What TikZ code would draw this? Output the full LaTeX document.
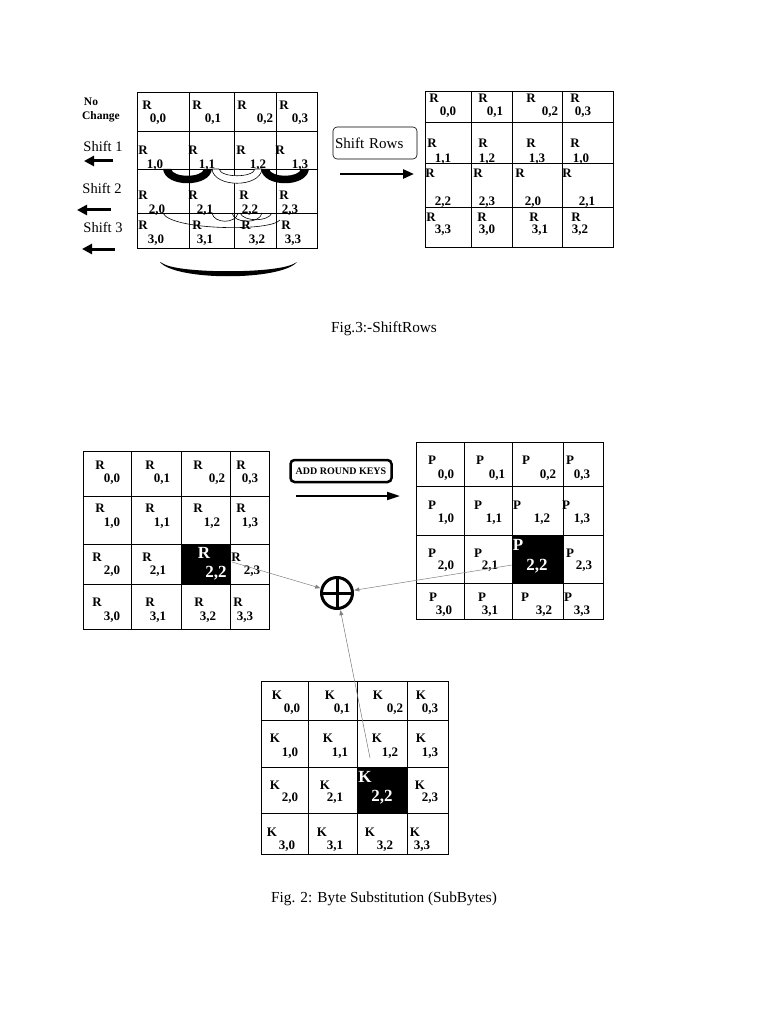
\documentclass[tikz,border=0pt]{standalone}
\usepackage{fontspec}
\setmainfont{Liberation Serif}
\usetikzlibrary{arrows.meta}
\newcommand\mycell[7]{\node[lab] (#1l) at (#2,#3) {#4}; \node[lab] (#1i) at (#5,#6) {#7};}
\newcommand\mybig[7]{\node[biglab] (#1l) at (#2,#3) {#4}; \node[biglab] (#1i) at (#5,#6) {#7};}
\begin{document}
\begin{tikzpicture}[x=1pt,y=-1pt,
  lab/.style={font=\bfseries\fontsize{13}{14}\selectfont, inner sep=0pt},
  biglab/.style={font=\bfseries\fontsize{17}{18}\selectfont, text=white, inner sep=0pt},
  gridline/.style={line width=0.8pt},
  plain/.style={font=\fontsize{14.5}{16}\selectfont, inner sep=0pt},
  caption/.style={font=\fontsize{15.3}{17}\selectfont, inner sep=0pt},
  fatarrow/.style={line width=3pt, -{Triangle[length=10pt,width=10pt]}},
  conn/.style={draw=gray, line width=0.5pt, -{Triangle[length=5pt,width=4pt]}, shorten >=0.5pt},
  crescent/.style={fill=black},
]
\useasboundingbox (0,0) rectangle (768,1024);

% ---------------- Grid 1 (ShiftRows input)
\draw[gridline] (137,92) rectangle (317,248);
\foreach \x in {189,234,276} \draw[gridline] (\x,92) -- (\x,248);
\foreach \y in {131,169,213} \draw[gridline] (137,\y) -- (317,\y);

\mycell{a00}{147}{105}{R}{158}{119}{0,0}
\mycell{a01}{197}{105}{R}{213}{119}{0,1}
\mycell{a02}{242}{105}{R}{265}{119}{0,2}
\mycell{a03}{284}{105}{R}{300}{119}{0,3}
\mycell{a10}{143}{150}{R}{155}{165}{1,0}
\mycell{a11}{193}{150}{R}{207}{165}{1,1}
\mycell{a12}{241}{150}{R}{258}{165}{1,2}
\mycell{a13}{280}{150}{R}{300}{165}{1,3}
\mycell{a20}{143}{195}{R}{157}{210}{2,0}
\mycell{a21}{193}{195}{R}{205}{210}{2,1}
\mycell{a22}{244}{195}{R}{250}{210}{2,2}
\mycell{a23}{284}{195}{R}{290}{210}{2,3}
\mycell{a30}{143}{225}{R}{156}{240}{3,0}
\mycell{a31}{197}{225}{R}{205}{240}{3,1}
\mycell{a32}{246}{225}{R}{257}{240}{3,2}
\mycell{a33}{286}{225}{R}{293}{240}{3,3}

% crescents for shift 1
\fill[crescent] (163,169) .. controls (165,188) and (210,188) .. (212,169) -- (204,169) .. controls (202,178) and (173,178) .. (171,169) -- cycle;
\filldraw[fill=white, draw=black, line width=0.6pt] (212,169) .. controls (214,188) and (260,188) .. (262,169) -- (255,169) .. controls (253,178) and (221,178) .. (219,169) -- cycle;
\fill[crescent] (261,169) .. controls (263,188) and (307,188) .. (309,169) -- (301,169) .. controls (299,178) and (271,178) .. (269,169) -- cycle;
% thin arcs for shift 2
\draw[line width=0.6pt] (163,213) .. controls (170,230) and (270,232) .. (280,220);
\draw[line width=0.6pt] (212,213) .. controls (214,224) and (236,224) .. (238,213);
\draw[line width=0.6pt] (232,213) .. controls (234,224) and (260,224) .. (262,213);
\draw[line width=0.6pt] (240,213) .. controls (244,222) and (268,222) .. (272,213);
% crescent for shift 3
\fill[crescent] (160,262) .. controls (175,281) and (281,281) .. (297,262) -- (295,263) .. controls (280,274) and (176,274) .. (162,263) -- cycle;

% left labels and arrows
\node[font=\bfseries\fontsize{11.5}{12}\selectfont, inner sep=0pt] (nochg1) at (91,102) {No};
\node[font=\bfseries\fontsize{11.5}{12}\selectfont, inner sep=0pt] (nochg2) at (101,117) {Change};
\node[plain] (s1) at (103,146) {Shift 1};
\node[plain] (s2) at (102,188) {Shift 2};
\node[plain] (s3) at (103,227) {Shift 3};
\coordinate (s1a) at (113,161); \coordinate (s1b) at (84,161);
\coordinate (s2a) at (111,210); \coordinate (s2b) at (77,210);
\coordinate (s3a) at (115,249); \coordinate (s3b) at (82,249);
\draw[fatarrow] (s1a) -- (s1b);
\draw[fatarrow] (s2a) -- (s2b);
\draw[fatarrow] (s3a) -- (s3b);

% Shift rows box and arrow
\node[draw, line width=0.6pt, rounded corners=4pt, text width=80pt, align=left, inner xsep=2pt, minimum height=32pt, font=\fontsize{15}{16}\selectfont] (srbox) at (375,143) {Shift Rows};
\coordinate (sra) at (340,174); \coordinate (srb) at (414,174);
\draw[line width=2.5pt, -{Triangle[length=11pt,width=9pt]}] (sra) -- (srb);

% ---------------- Grid 2 (ShiftRows output)
\draw[gridline] (425,91) rectangle (613,247);
\foreach \x in {471,512,562} \draw[gridline] (\x,91) -- (\x,247);
\foreach \y in {122,163,207} \draw[gridline] (425,\y) -- (613,\y);

\mycell{b00}{434}{98}{R}{448}{112}{0,0}
\mycell{b01}{483}{98}{R}{495}{112}{0,1}
\mycell{b02}{531}{98}{R}{550}{112}{0,2}
\mycell{b03}{575}{98}{R}{583}{112}{0,3}
\mycell{b10}{432}{143}{R}{443}{159}{1,1}
\mycell{b11}{483}{143}{R}{487}{159}{1,2}
\mycell{b12}{531}{143}{R}{537}{159}{1,3}
\mycell{b13}{575}{143}{R}{581}{159}{1,0}
\mycell{b20}{430}{173}{R}{443}{202}{2,2}
\mycell{b21}{478}{173}{R}{487}{202}{2,3}
\mycell{b22}{520}{173}{R}{533}{202}{2,0}
\mycell{b23}{567}{173}{R}{587}{202}{2,1}
\mycell{b30}{431}{217}{R}{443}{230}{3,3}
\mycell{b31}{482}{217}{R}{487}{230}{3,0}
\mycell{b32}{534}{217}{R}{540}{230}{3,1}
\mycell{b33}{576}{217}{R}{580}{230}{3,2}

\node[caption] (cap3) at (384,329) {Fig.3:-ShiftRows};

% ---------------- Grid 3 (R state)
\fill (181,544) rectangle (230,584);
\draw[gridline] (83,451) rectangle (269,629);
\foreach \x in {131,181,230} \draw[gridline] (\x,451) -- (\x,629);
\foreach \y in {496,544,584} \draw[gridline] (83,\y) -- (269,\y);

\mycell{c00}{100}{465}{R}{112}{479}{0,0}
\mycell{c01}{150}{465}{R}{162}{479}{0,1}
\mycell{c02}{198}{465}{R}{217}{479}{0,2}
\mycell{c03}{241}{465}{R}{250}{479}{0,3}
\mycell{c10}{100}{508}{R}{112}{523}{1,0}
\mycell{c11}{150}{508}{R}{162}{523}{1,1}
\mycell{c12}{198}{508}{R}{212}{523}{1,2}
\mycell{c13}{241}{508}{R}{250}{523}{1,3}
\mycell{c20}{97}{557}{R}{112}{571}{2,0}
\mycell{c21}{147}{557}{R}{158}{571}{2,1}
\mybig{c22}{204}{553}{R}{216}{573}{2,2}
\mycell{c23}{236}{557}{R}{252}{571}{2,3}
\mycell{c30}{97}{602}{R}{112}{617}{3,0}
\mycell{c31}{150}{602}{R}{158}{617}{3,1}
\mycell{c32}{199}{602}{R}{208}{617}{3,2}
\mycell{c33}{238}{602}{R}{245}{617}{3,3}

% ADD ROUND KEYS
\node[draw, line width=2.5pt, rounded corners=4pt, minimum width=101pt, minimum height=22pt, font=\bfseries\fontsize{10}{11}\selectfont, inner sep=2pt] (ark) at (341,471) {ADD ROUND KEYS};
\coordinate (arka) at (296,496); \coordinate (arkb) at (400,496);
\draw[line width=2pt, -{Triangle[length=13pt,width=8pt]}] (arka) -- (arkb);

% ---------------- Grid 4 (P state)
\fill (512,535) rectangle (563,583);
\draw[gridline] (416,442) rectangle (603,619);
\foreach \x in {464,512,563} \draw[gridline] (\x,442) -- (\x,619);
\foreach \y in {486,535,583} \draw[gridline] (416,\y) -- (603,\y);

\mycell{d00}{432}{460}{P}{446}{475}{0,0}
\mycell{d01}{480}{460}{P}{497}{475}{0,1}
\mycell{d02}{526}{460}{P}{548}{475}{0,2}
\mycell{d03}{570}{460}{P}{582}{475}{0,3}
\mycell{d10}{432}{505}{P}{446}{519}{1,0}
\mycell{d11}{478}{505}{P}{494}{519}{1,1}
\mycell{d12}{517}{505}{P}{542}{519}{1,2}
\mycell{d13}{566}{505}{P}{582}{519}{1,3}
\mycell{d20}{432}{553}{P}{446}{566}{2,0}
\mycell{d21}{478}{553}{P}{490}{566}{2,1}
\mybig{d22}{518}{545}{P}{537}{566}{2,2}
\mycell{d23}{570}{553}{P}{584}{566}{2,3}
\mycell{d30}{433}{597}{P}{444}{611}{3,0}
\mycell{d31}{482}{597}{P}{490}{611}{3,1}
\mycell{d32}{525}{597}{P}{544}{611}{3,2}
\mycell{d33}{568}{597}{P}{582}{611}{3,3}

% ---------------- Grid 5 (K state)
\fill (357,767) rectangle (407,813);
\draw[gridline] (261,681) rectangle (448,854);
\foreach \x in {308,357,407} \draw[gridline] (\x,681) -- (\x,854);
\foreach \y in {720,767,813} \draw[gridline] (261,\y) -- (448,\y);

\mycell{e00}{277}{695}{K}{292}{709}{0,0}
\mycell{e01}{330}{695}{K}{342}{709}{0,1}
\mycell{e02}{378}{695}{K}{395}{709}{0,2}
\mycell{e03}{421}{695}{K}{430}{709}{0,3}
\mycell{e10}{275}{738}{K}{290}{753}{1,0}
\mycell{e11}{328}{738}{K}{340}{753}{1,1}
\mycell{e12}{377}{738}{K}{390}{753}{1,2}
\mycell{e13}{421}{738}{K}{430}{753}{1,3}
\mycell{e20}{275}{785}{K}{290}{798}{2,0}
\mycell{e21}{325}{785}{K}{335}{798}{2,1}
\mybig{e22}{365}{777}{K}{382}{797}{2,2}
\mycell{e23}{420}{785}{K}{430}{798}{2,3}
\mycell{e30}{272}{832}{K}{287}{846}{3,0}
\mycell{e31}{322}{832}{K}{335}{846}{3,1}
\mycell{e32}{370}{832}{K}{385}{846}{3,2}
\mycell{e33}{415}{832}{K}{422}{846}{3,3}

% ---------------- XOR and connectors
\node[draw, circle, line width=3pt, minimum size=31pt, inner sep=0pt] (xor) at (337,593) {};
\draw[line width=3pt] (xor.north) -- (xor.south);
\draw[line width=3pt] (xor.west) -- (xor.east);
\coordinate (r23) at (232,562);
\coordinate (p21) at (512,565);
\coordinate (k12) at (370,758);
\draw[conn] (r23) -- (xor);
\draw[conn] (p21) -- (xor);
\draw[conn] (k12) -- (xor);

\node[caption] (cap2) at (384,899) {Fig. 2: Byte Substitution (SubBytes)};
\end{tikzpicture}
\end{document}
